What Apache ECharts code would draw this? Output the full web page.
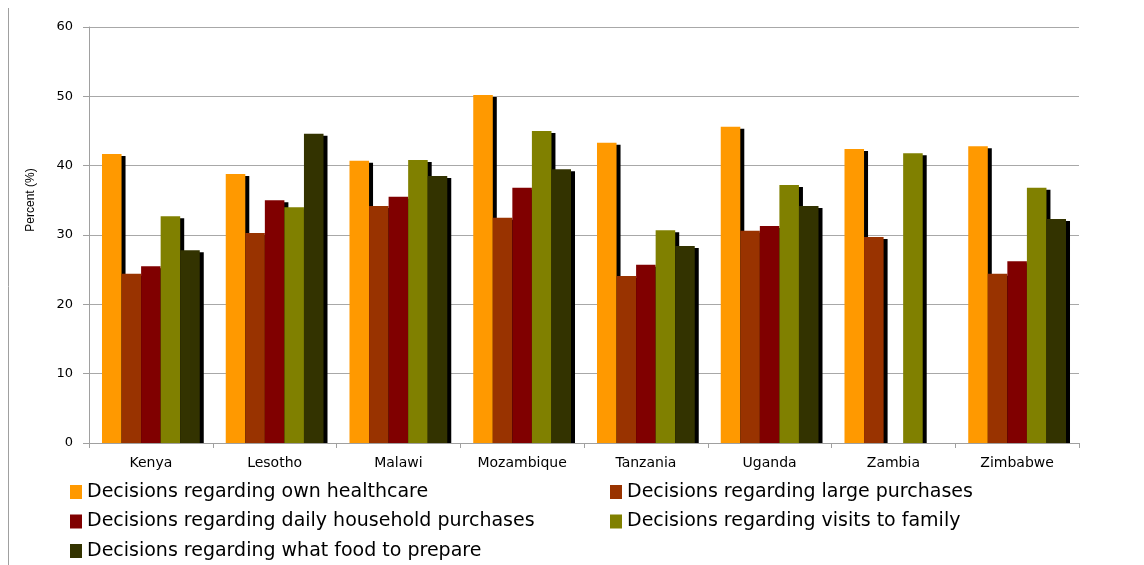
<!DOCTYPE html>
<html>
<head>
<meta charset="utf-8">
<script src="https://cdn.jsdelivr.net/npm/echarts@6/dist/echarts.min.js"></script>
<style>html,body{margin:0;padding:0;background:#fff;}#chart{width:1144px;height:565px;}</style>
</head>
<body>
<div id="chart"></div>
<script>
var categories = ['Kenya', 'Lesotho', 'Malawi', 'Mozambique', 'Tanzania', 'Uganda', 'Zambia', 'Zimbabwe'];
var seriesNames = [
  'Decisions regarding own healthcare',
  'Decisions regarding large purchases',
  'Decisions regarding daily household purchases',
  'Decisions regarding visits to family',
  'Decisions regarding what food to prepare'
];
var ownHealthcare   = [41.7, 38.8, 40.7, 50.2, 43.3, 45.6, 42.4, 42.8];
var largePurchases  = [24.4, 30.3, 34.2, 32.5, 24.1, 30.6, 29.7, 24.4];
var dailyPurchases  = [25.5, 35.0, 35.5, 36.8, 25.7, 31.3, null, 26.2];
var visitsToFamily  = [32.7, 34.0, 40.8, 45.0, 30.7, 37.2, 41.8, 36.8];
var foodToPrepare   = [27.8, 44.6, 38.5, 39.5, 28.4, 34.2, null, 32.3];
var yTicks = [0, 10, 20, 30, 40, 50, 60];

var colors = ['#FF9900', '#993300', '#800000', '#808000', '#333300'];
var allData = [ownHealthcare, largePurchases, dailyPurchases, visitsToFamily, foodToPrepare];

var chart = echarts.init(document.getElementById('chart'));
var series = seriesNames.map(function (n, i) {
  return {
    name: n,
    type: 'bar',
    data: allData[i],
    barGap: '0%',
    barCategoryGap: '21%',
    emphasis: { disabled: true },
    itemStyle: {
      color: colors[i],
      shadowColor: '#000',
      shadowBlur: 0,
      shadowOffsetX: 4,
      shadowOffsetY: 2
    }
  };
});

var legendText = { fontFamily: 'DejaVu Sans', fontSize: 19, color: '#000', lineHeight: 20 };
chart.setOption({
  animation: false,
  color: colors,
  textStyle: { fontFamily: 'DejaVu Sans' },
  grid: { left: 89, right: 65, top: 27, bottom: 122, containLabel: false },
  legend: [
    {
      data: [seriesNames[0], seriesNames[2], seriesNames[4]],
      orient: 'vertical', left: 70, top: 482, padding: 0,
      itemWidth: 12, itemHeight: 14, itemGap: 9.5, icon: 'rect',
      textStyle: legendText
    },
    {
      data: [seriesNames[1], seriesNames[3]],
      orient: 'vertical', left: 610, top: 482, padding: 0,
      itemWidth: 12, itemHeight: 14, itemGap: 9.5, icon: 'rect',
      textStyle: legendText
    }
  ],
  xAxis: {
    type: 'category',
    data: categories,
    z: 10,
    axisLine: { lineStyle: { color: '#a0a0a0', width: 1 } },
    axisTick: { show: true, length: 5, alignWithLabel: false, lineStyle: { color: '#a0a0a0' } },
    axisLabel: { color: '#000', fontFamily: 'DejaVu Sans', fontSize: 14, margin: 13 }
  },
  yAxis: {
    type: 'value',
    min: 0, max: 60, interval: 10,
    name: 'Percent (%)',
    nameLocation: 'middle',
    nameGap: 52,
    nameTextStyle: { fontFamily: 'Liberation Sans', fontSize: 12, color: '#000', padding: [0, 0, 0, 70] },
    axisLine: { show: true, lineStyle: { color: '#a0a0a0', width: 1 } },
    axisTick: { show: true, length: 6, lineStyle: { color: '#a0a0a0' } },
    axisLabel: {
      color: '#000', fontFamily: 'DejaVu Sans', fontSize: 13, margin: 16,
      formatter: function (v) { return yTicks.indexOf(v) >= 0 ? String(v) : ''; }
    },
    splitLine: { show: true, lineStyle: { color: '#a8a8a8', width: 1 } }
  },
  graphic: [
    {
      type: 'line',
      shape: { x1: 8.5, y1: 8, x2: 8.5, y2: 565 },
      style: { stroke: '#a0a0a0', lineWidth: 1 },
      silent: true
    },
    {
      type: 'rect',
      z: 5,
      shape: { x: 89, y: 443.5, width: 990, height: 4 },
      style: { fill: '#fff' },
      silent: true
    }
  ],
  series: series
});
</script>
</body>
</html>
